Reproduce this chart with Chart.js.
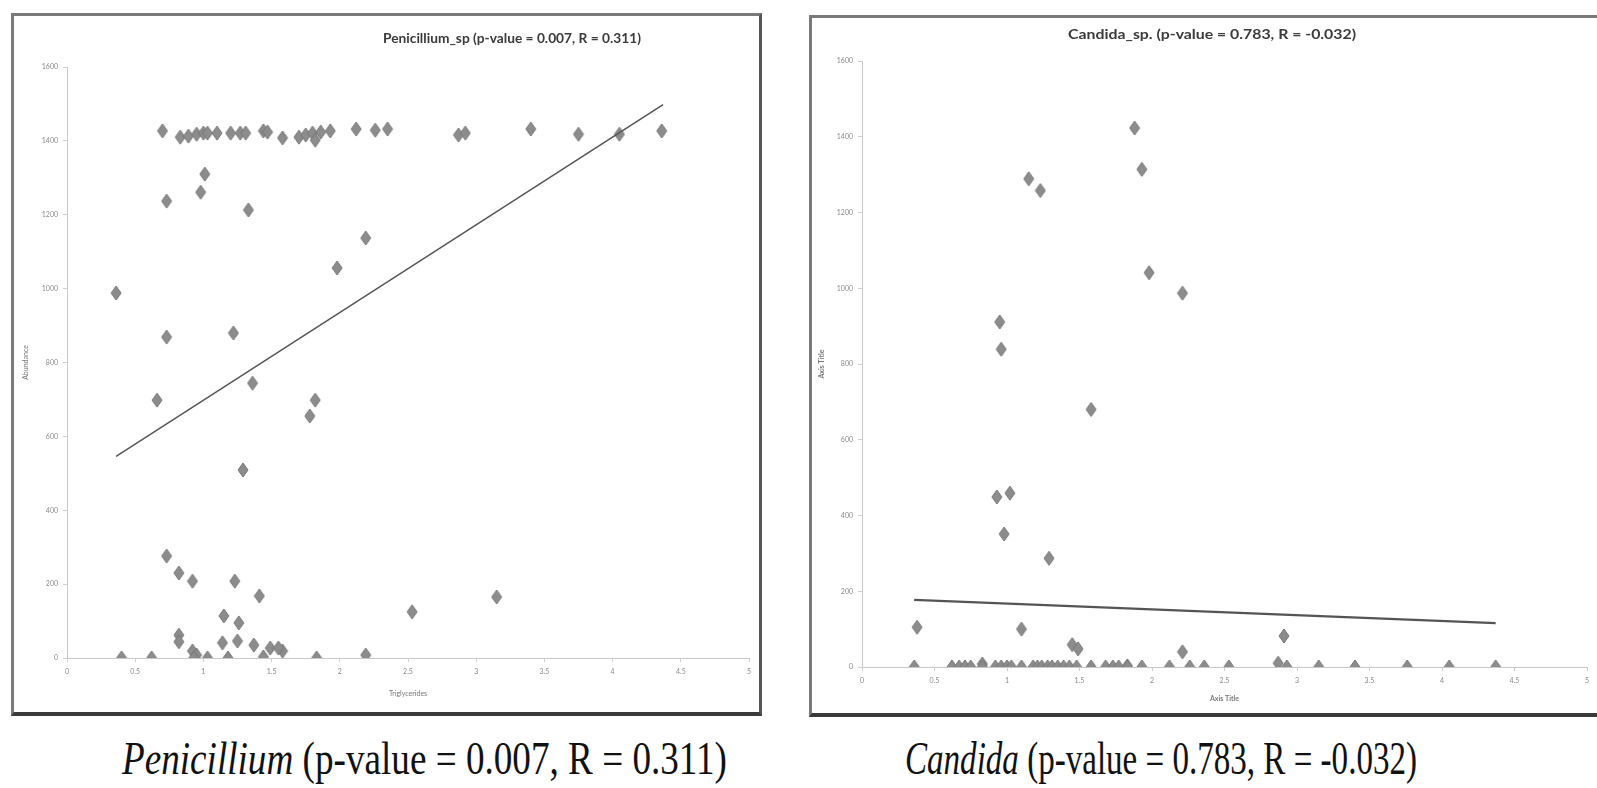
<!DOCTYPE html>
<html>
<head>
<meta charset="utf-8">
<script src="https://cdn.jsdelivr.net/npm/chart.js@4.4.1/dist/chart.umd.min.js"></script>
<style>
  html, body { margin: 0; padding: 0; background: #fff; }
  body { width: 1597px; height: 788px; position: relative; overflow: hidden; }
  .panel {
    position: absolute; box-sizing: border-box; background: #fff;
    border: 3px solid #7a7a7a; border-bottom: 4px solid #3a3a3a; border-right: 3px solid #555;
  }
  .panel canvas { position: absolute; left: 0; top: 0; }
  .ttl {
    position: absolute; white-space: nowrap; font-family: Lato, "Open Sans", sans-serif;
    font-weight: 700; font-size: 14px; color: #3a3a3a; transform-origin: 0 50%;
  }
  .cap {
    position: absolute; white-space: nowrap; font-family: "Liberation Serif", "DejaVu Serif", serif;
    font-size: 46px; color: #111; transform-origin: 0 50%;
  }
</style>
</head>
<body>

<div class="panel" id="p1" style="left:11px; top:13px; width:751px; height:703px;">
  <canvas id="chart-pen"></canvas>
</div>
<div class="panel" id="p2" style="left:809px; top:15px; width:791px; height:702px;">
  <canvas id="chart-cand"></canvas>
</div>

<div class="ttl" id="t1">Penicillium_sp (p-value = 0.007, R = 0.311)</div>
<div class="ttl" id="t2">Candida_sp. (p-value = 0.783, R = -0.032)</div>

<div class="cap" id="c1"><i>Penicillium</i> (p-value = 0.007, R = 0.311)</div>
<div class="cap" id="c2"><i>Candida</i> (p-value = 0.783, R = -0.032)</div>

<script>
// Penicillium_sp : Triglycerides vs Abundance
const penX = [0.70, 0.83, 0.89, 0.95, 1.00, 1.03, 1.10, 1.20, 1.27, 1.31, 1.44, 1.47, 1.58, 1.70, 1.75, 1.80, 1.82, 1.86, 1.93, 2.12, 2.26, 2.35, 2.87, 2.92, 3.40, 3.75, 4.05, 4.36,
  1.01, 0.98, 0.73, 1.33, 2.19, 1.98, 0.36, 0.73, 1.22, 0.66, 1.36, 1.82, 1.78, 1.29,
  0.73, 0.82, 0.92, 1.23, 1.41, 1.15, 1.26, 0.82, 0.82, 1.14, 1.25, 1.37, 1.49, 1.58, 1.55, 0.92, 0.95,
  0.93, 0.40, 0.62, 1.03, 1.18, 1.44, 1.83, 2.19, 2.53, 3.15];
const penY = [1427, 1410, 1413, 1418, 1421, 1421, 1421, 1421, 1421, 1421, 1427, 1424, 1408, 1410, 1416, 1421, 1402, 1424, 1427, 1432, 1429, 1432, 1416, 1421, 1432, 1418, 1418, 1427,
  1310, 1261, 1237, 1213, 1137, 1056, 988, 869, 880, 698, 744, 698, 655, 509,
  276, 230, 208, 208, 168, 114, 95, 62, 44, 41, 46, 35, 27, 19, 27, 19, 8,
  0, 0, 0, 0, 0, 3, 0, 8, 125, 165];
const penTrendX = [0.36, 4.37];
const penTrendY = [546, 1498];

// Candida_sp.
const candX = [1.88, 1.93, 1.15, 1.23, 1.98, 2.21, 0.95, 0.96, 1.58, 0.93, 1.02, 0.98, 1.29,
  0.38, 1.10, 2.91, 1.45, 1.49, 2.21, 2.87, 0.83, 1.83,
  0.36, 0.62, 0.67, 0.71, 0.75, 0.83, 0.92, 0.96, 1.00, 1.03, 1.10, 1.18, 1.21, 1.24, 1.28, 1.31, 1.35, 1.39, 1.43, 1.48,
  1.58, 1.68, 1.73, 1.77, 1.83, 1.93, 2.12, 2.26, 2.36, 2.53, 2.93, 3.15, 3.40, 3.76, 4.05, 4.37];
const candY = [1423, 1314, 1289, 1258, 1041, 987, 911, 839, 680, 449, 459, 351, 287,
  105, 100, 82, 59, 48, 40, 10, 8, 3,
  0, 0, 0, 0, 0, 0, 0, 0, 0, 0, 0, 0, 0, 0, 0, 0, 0, 0, 0, 0,
  0, 0, 0, 0, 0, 0, 0, 0, 0, 0, 0, 0, 0, 0, 0, 0];
const candTrendX = [0.36, 4.37];
const candTrendY = [177, 116];

const xMin = 0, xMax = 5, xStep = 0.5;
const yMin = 0, yMax = 1600, yStep = 200;

const toPoints = (xs, ys) => xs.map((x, i) => ({ x, y: ys[i] }));

// diamond marker, a bit taller than wide like the source
const makeDiamond = () => {
  const c = document.createElement('canvas');
  c.width = 12; c.height = 16;
  const g = c.getContext('2d');
  g.beginPath();
  g.moveTo(6, 1); g.lineTo(11, 8); g.lineTo(6, 15); g.lineTo(1, 8); g.closePath();
  g.fillStyle = '#8c8c8c';
  g.fill();
  g.strokeStyle = '#777';
  g.lineWidth = 1;
  g.stroke();
  return c;
};
const diamond = makeDiamond();

const buildChart = (id, opts) => {
  const canvas = document.getElementById(id);
  canvas.width = opts.w; canvas.height = opts.h;
  canvas.style.width = opts.w + 'px'; canvas.style.height = opts.h + 'px';

  const tickFont = { family: 'Lato, sans-serif', size: 7 };
  const axisBase = {
    type: 'linear',
    grid: { drawOnChartArea: false, drawTicks: true, tickLength: 4, color: '#cfcfcf' },
    border: { color: '#c8c8c8', width: 1 },
  };

  new Chart(canvas, {
    data: {
      datasets: [
        {
          type: 'scatter',
          data: toPoints(opts.xs, opts.ys),
          pointStyle: diamond,
          pointRadius: 6,
          order: 2
        },
        {
          type: 'line',
          data: toPoints(opts.tx, opts.ty),
          borderColor: '#555',
          borderWidth: opts.lineW,
          pointRadius: 0,
          fill: false,
          order: 1
        }
      ]
    },
    options: {
      responsive: false,
      animation: false,
      devicePixelRatio: 1,
      layout: { padding: { left: 0, top: opts.padTop, right: opts.padRight, bottom: opts.padBottom } },
      plugins: { legend: { display: false }, tooltip: { enabled: false }, title: { display: false } },
      scales: {
        x: {
          ...axisBase,
          min: xMin, max: xMax,
          ticks: { stepSize: xStep, font: tickFont, color: '#8a8a8a', padding: 6, maxRotation: 0,
            callback: v => String(v) },
          title: { display: true, text: opts.xTitle, color: '#777', font: { family: 'Lato, sans-serif', size: 7, weight: opts.titleWeight }, padding: { top: 0, bottom: 4 } },
          afterFit: s => { s.height = opts.xH; }
        },
        y: {
          ...axisBase,
          min: yMin, max: yMax,
          ticks: { stepSize: yStep, font: tickFont, color: '#8a8a8a', padding: 5,
            callback: v => String(v) },
          title: { display: true, text: opts.yTitle, color: '#777', font: { family: 'Lato, sans-serif', size: 7, weight: opts.titleWeight }, padding: { top: opts.yTitlePad, bottom: 0 } },
          afterFit: s => { s.width = opts.yW; }
        }
      }
    }
  });
};

buildChart('chart-pen', {
  w: 745, h: 696, padTop: 51, padRight: 10, padBottom: 10, xH: 44, yW: 53, yTitlePad: 8,
  xs: penX, ys: penY, tx: penTrendX, ty: penTrendY, lineW: 1.5,
  xTitle: 'Triglycerides', yTitle: 'Abundance', titleWeight: 'normal'
});

buildChart('chart-cand', {
  w: 785, h: 695, padTop: 43, padRight: 10, padBottom: 6, xH: 40, yW: 50, yTitlePad: 6,
  xs: candX, ys: candY, tx: candTrendX, ty: candTrendY, lineW: 2.2,
  xTitle: 'Axis Title', yTitle: 'Axis Title', titleWeight: 'bold'
});

// place a text block centred on (cx, cy), squeezed to a given width
const place = (id, cx, cy, width) => {
  const el = document.getElementById(id);
  const w = el.getBoundingClientRect().width;
  const h = el.getBoundingClientRect().height;
  const k = width / w;
  el.style.left = (cx - width / 2) + 'px';
  el.style.top = (cy - h / 2) + 'px';
  el.style.transform = `scaleX(${k})`;
};

place('t1', 512, 37, 258);
place('t2', 1212, 33, 288);
place('c1', 424, 758, 605);
place('c2', 1161, 758, 512);
</script>
</body>
</html>
